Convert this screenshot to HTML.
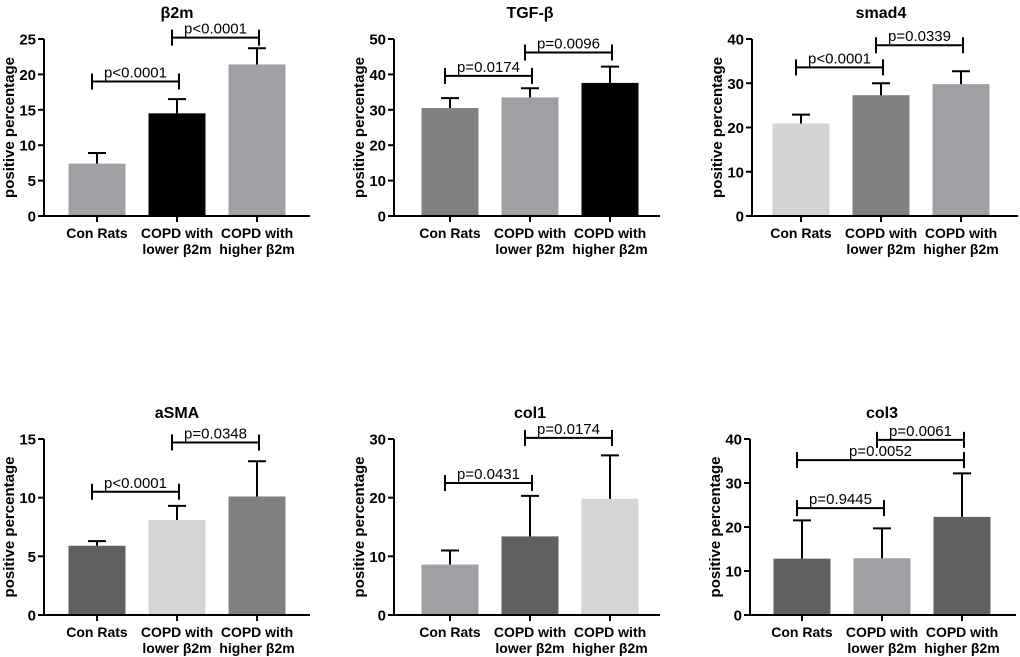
<!DOCTYPE html>
<html><head><meta charset="utf-8"><style>
html,body{margin:0;padding:0;background:#fff;}
svg{display:block;font-family:"Liberation Sans",sans-serif;}
</style></head><body>
<svg id="fig" width="1020" height="657" xmlns="http://www.w3.org/2000/svg"></svg>
<script>
const categories = [["Con Rats"],["COPD with","lower β2m"],["COPD with","higher β2m"]];
const titles = ["β2m","TGF-β","smad4","aSMA","col1","col3"];
const yMaxes = [25,50,40,15,30,40];
const yStepsArr = [5,10,10,5,10,10];
const means = [[7.4,14.5,21.4],[30.5,33.5,37.6],[20.9,27.3,29.8],[5.9,8.1,10.1],[8.6,13.4,19.8],[12.8,12.9,22.3]];
const errTops = [[8.9,16.5,23.7],[33.3,36.1,42.2],[22.9,30.0,32.7],[6.3,9.3,13.1],[11.0,20.3,27.2],[21.5,19.7,32.2]];
const barColors = [["#a0a0a4","#000000","#a0a0a4"],["#808082","#a0a0a4","#000000"],["#d3d3d5","#808082","#a0a0a4"],["#606060","#d5d5d5","#808082"],["#a0a0a4","#606060","#d5d5d5"],["#606060","#a0a0a4","#606060"]];
// brackets: [from, to, yValue, label]
const brackets = [
 [[0,1,19.0,"p<0.0001"],[1,2,25.2,"p<0.0001"]],
 [[0,1,39.6,"p=0.0174"],[1,2,46.2,"p=0.0096"]],
 [[0,1,33.6,"p<0.0001"],[1,2,38.6,"p=0.0339"]],
 [[0,1,10.5,"p<0.0001"],[1,2,14.7,"p=0.0348"]],
 [[0,1,22.5,"p=0.0431"],[1,2,30.2,"p=0.0174"]],
 [[0,1,24.3,"p=0.9445"],[0,2,35.2,"p=0.0052"],[1,2,39.8,"p=0.0061"]]
];
const svg=document.getElementById('fig');
const NS="http://www.w3.org/2000/svg";
function mk(tag,attrs,parent){const e=document.createElementNS(NS,tag);for(const k in attrs)e.setAttribute(k,attrs[k]);parent.appendChild(e);return e;}
const panels=[[44,97,216,39],[394,450,216,39],[752,801,216,39],[44,97,615,439],[394,450,615,439],[750,802,615,439]];
for(let p=0;p<6;p++){
 const [ax,c0,y0,y1]=panels[p];
 const g=mk('g',{},svg);
 
 
 const ys=v=>y0-(v/yMaxes[p])*(y0-y1);
 const xs=i=>c0+i*80;
 const t=mk('text',{x:xs(1),y:y1-21,'text-anchor':'middle','font-size':16,'font-weight':'bold'},g);t.textContent=titles[p];
 
 const yl=mk('text',{transform:`translate(${ax-30},${(y0+y1)/2}) rotate(-90)`,'text-anchor':'middle','font-size':15,'font-weight':'bold'},g);yl.textContent="positive percentage";
 
 for(let i=0;i<3;i++){
  const bx=xs(i)-28.5;
  const r=mk('rect',{x:bx,y:ys(means[p][i]),width:57,height:y0-ys(means[p][i]),fill:barColors[p][i]},g);
  
  const eb=mk('path',{d:`M${xs(i)},${ys(means[p][i])}V${ys(errTops[p][i])}M${xs(i)-9},${ys(errTops[p][i])}H${xs(i)+9}`,stroke:'#000','stroke-width':2,fill:'none'},g);
  
  mk('line',{x1:xs(i),x2:xs(i),y1:y0,y2:y0+6,stroke:'#000','stroke-width':2},g);
  categories[i].forEach((s,k)=>{const tt=mk('text',{x:xs(i),y:y0+22+k*16,'text-anchor':'middle','font-size':14,'font-weight':'bold'},g);tt.textContent=s;
   });
 }
 mk('path',{d:`M${ax},${y1}V${y0}H${ax+266}`,stroke:'#000','stroke-width':2,fill:'none'},g);
 for(let v=0;v<=yMaxes[p];v+=yStepsArr[p]){
  mk('line',{x1:ax-6,x2:ax,y1:ys(v),y2:ys(v),stroke:'#000','stroke-width':2},g);
  const tl=mk('text',{x:ax-8,y:ys(v)+5.5,'text-anchor':'end','font-size':15,'font-weight':'bold'},g);tl.textContent=v;
  
 }
 brackets[p].forEach(b=>{
  const xa=xs(b[0])-5,xb=xs(b[1])+2,yy=ys(b[2]);
  const br=mk('path',{d:`M${xa},${yy-8}V${yy+8}M${xa},${yy}H${xb}M${xb},${yy-8}V${yy+8}`,stroke:'#000','stroke-width':2,fill:'none'},g);
  
  const bt=mk('text',{x:(xa+xb)/2,y:yy-4,'text-anchor':'middle','font-size':15},g);bt.textContent=b[3];
  
 });
}
</script>
</body></html>
